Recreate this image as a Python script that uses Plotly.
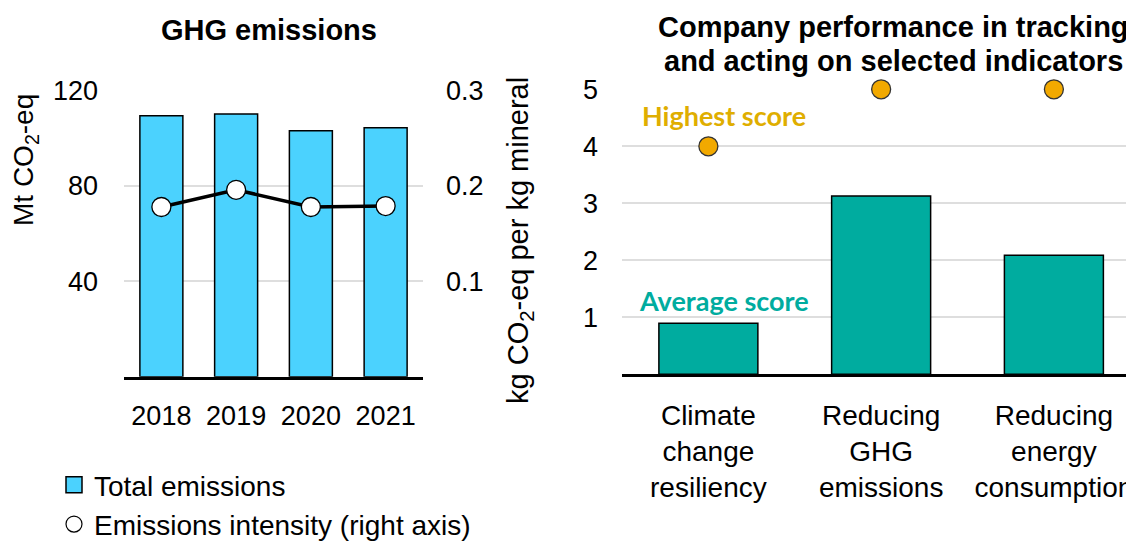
import plotly.graph_objects as go

years = ["2018", "2019", "2020", "2021"]
total_emissions = [109.5, 110.2, 103.2, 104.5]
emissions_intensity = [0.178, 0.196, 0.178, 0.179]

indicators = ["Climate<br>change<br>resiliency", "Reducing<br>GHG<br>emissions",
              "Reducing<br>energy<br>consumption"]
average_score = [0.895, 3.13, 2.09]
highest_score = [4, 5, 5]

W, H = 1134, 543
OFF = 8  # page body margin
FONT = "Liberation Sans, Arial, sans-serif"
BLUE = "#4BD2FE"
TEAL = "#00AC9F"
GOLD = "#F2A900"
GRID = "#DEDEDE"


def px(x):
    return (x - OFF) / W


def py(y):
    return (H - (y - OFF)) / H


fig = go.Figure()

# left panel
fig.add_trace(go.Bar(
    x=years, y=total_emissions,
    marker=dict(color=BLUE, line=dict(color="black", width=1.5)),
    width=0.575, xaxis="x", yaxis="y", showlegend=False,
))
fig.add_trace(go.Scatter(
    x=years, y=emissions_intensity, mode="lines+markers",
    line=dict(color="black", width=3.5),
    marker=dict(size=19, color="white", line=dict(color="black", width=1.3)),
    xaxis="x", yaxis="y2", showlegend=False, cliponaxis=False,
))
# legend entries
fig.add_trace(go.Scatter(
    x=[None], y=[None], mode="markers", name="Total emissions",
    marker=dict(symbol="square", size=16, color=BLUE,
                line=dict(color="black", width=1.5)),
    xaxis="x", yaxis="y",
))
fig.add_trace(go.Scatter(
    x=[None], y=[None], mode="markers", name="Emissions intensity (right axis)",
    marker=dict(size=16, color="white", line=dict(color="black", width=1.2)),
    xaxis="x", yaxis="y",
))

# right panel
fig.add_trace(go.Bar(
    x=indicators, y=average_score,
    marker=dict(color=TEAL, line=dict(color="black", width=1.5)),
    width=0.573, xaxis="x3", yaxis="y3", showlegend=False,
))
fig.add_trace(go.Scatter(
    x=indicators, y=highest_score, mode="markers",
    marker=dict(size=19, color=GOLD, line=dict(color="#333333", width=1.3)),
    xaxis="x3", yaxis="y3", showlegend=False, cliponaxis=False,
))

lfont = dict(family=FONT, size=27, color="black")
rfont = dict(family=FONT, size=28, color="black")

fig.update_layout(
    width=W, height=H,
    margin=dict(l=0, r=0, t=0, b=0, autoexpand=False),
    paper_bgcolor="white", plot_bgcolor="white",
    font=dict(family=FONT, size=27, color="black"),
    xaxis=dict(domain=[px(124), px(423)], anchor="y", type="category",
               range=[-0.5, 3.5], showline=True,
               linecolor="black", linewidth=2.5, showgrid=False, automargin=False,
               tickfont=lfont, ticklabelstandoff=13),
    yaxis=dict(domain=[py(376.7), py(90.7)], anchor="x", range=[0, 120],
               tickvals=[40, 80, 120], showgrid=True, gridcolor=GRID,
               gridwidth=2, zeroline=False, showline=False, automargin=False,
               tickfont=lfont, ticklabelstandoff=25),
    yaxis2=dict(overlaying="y", side="right", anchor="x", range=[0, 0.3],
                tickvals=[0.1, 0.2, 0.3], showgrid=False, zeroline=False,
                automargin=False, tickfont=lfont, ticklabelstandoff=22),
    xaxis3=dict(domain=[px(622), 1.0], anchor="y3", range=[-0.5, 2.51],
                showline=True, linecolor="black", linewidth=2.5, automargin=False,
                showgrid=False, tickfont=rfont, ticklabelstandoff=14),
    yaxis3=dict(domain=[py(374.3), py(89.3)], anchor="x3", range=[0, 5],
                tickvals=[1, 2, 3, 4, 5], showgrid=True, gridcolor=GRID,
                gridwidth=2, zeroline=False, showline=False, automargin=False,
                tickfont=lfont, ticklabelstandoff=23),
    legend=dict(x=px(54), y=py(460), xanchor="left", yanchor="top",
                font=dict(family=FONT, size=28), bgcolor="rgba(0,0,0,0)",
                itemwidth=30, itemsizing="trace"),
    annotations=[
        dict(text="Mt CO<sub>2</sub>-eq", textangle=-90, x=px(26), y=py(160),
             font=dict(family=FONT, size=28)),
        dict(text="kg CO<sub>2</sub>-eq per kg mineral", textangle=-90,
             x=px(520), y=py(241), font=dict(family=FONT, size=29)),
        dict(text="<b>GHG emissions</b>", x=px(269), y=py(30),
             font=dict(family=FONT, size=29)),
        dict(text="<b>Company performance in tracking</b>", x=px(893), y=py(27),
             font=dict(family=FONT, size=29)),
        dict(text="<b>and acting on selected indicators</b>", x=px(893), y=py(61),
             font=dict(family=FONT, size=29)),
        dict(text="<b>Highest score</b>", x=px(724), y=py(115),
             font=dict(family="Lato, sans-serif", size=27, color="#DFAE00")),
        dict(text="<b>Average score</b>", x=px(724), y=py(300),
             font=dict(family="Lato, sans-serif", size=27, color=TEAL)),
    ],
)
for a in fig.layout.annotations:
    a.update(xref="paper", yref="paper", showarrow=False,
             xanchor="center", yanchor="middle")

fig.write_html("out.html")
